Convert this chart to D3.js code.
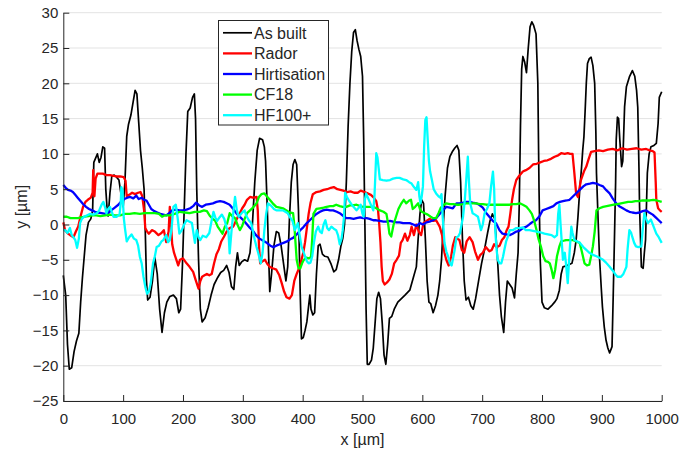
<!DOCTYPE html>
<html>
<head>
<meta charset="utf-8">
<script src="https://cdn.jsdelivr.net/npm/d3@7/dist/d3.min.js"></script>
<style>
  body { margin: 0; background: #fff; }
  text { font-family: "Liberation Sans", Arial, sans-serif; fill: #262626; }
</style>
</head>
<body>
<div class="canvas"></div>
<script>
// tick labels
const xTicks = [0, 100, 200, 300, 400, 500, 600, 700, 800, 900, 1000];
const yTicks = [-25, -20, -15, -10, -5, 0, 5, 10, 15, 20, 25, 30];

// series names, in legend order
const names = ["As built", "Rador", "Hirtisation", "CF18", "HF100+"];

// profiles, [x µm, y µm]
const asBuilt = [[0,-7.2],[4,-10],[7,-17],[10,-20.5],[14,-20.3],[18,-18],[22,-16.5],[26,-15.4],[29,-11],[32,-7.5],[35,-4.5],[38,-1.5],[42,0.3],[46,0.8],[49,2],[51,8.8],[54,9.4],[57,10],[60,8.8],[63,9.5],[66,11],[69,10.8],[71,5],[73,2.5],[75,1.2],[78,4.5],[81,6.8],[85,7],[89,6.7],[93,6.3],[97,4],[100,2.5],[103,6],[106,12.5],[109,14.2],[113,15.5],[117,17.5],[120,19],[123,18.5],[126,14.5],[129,10.5],[132,8],[135,5],[137,-1],[139,-8],[141,-10.7],[145,-10.3],[149,-8],[153,-4.7],[157,-7],[161,-12],[165,-15.3],[169,-12.5],[173,-11],[178,-10.2],[184,-10],[189,-10.5],[193,-12.5],[196,-12],[199,-6],[202,2],[205,10],[208,16],[212,16.5],[216,18],[219,18.5],[221,15],[223,5],[226,-5],[229,-12],[232,-13.8],[237,-13.2],[242,-11.8],[247,-10],[252,-8.5],[258,-7.5],[263,-6.8],[268,-6.5],[273,-5.8],[277,-6.8],[281,-8.8],[285,-9.2],[288,-6],[291,-4],[294,-5.8],[298,-5.3],[303,-5],[308,-5.2],[312,-4],[316,0],[320,6],[324,10.5],[328,12.2],[333,12],[336,11],[338,9],[341,2],[343,-4],[345,-9.5],[348,-7],[352,-3],[356,-1],[360,-1.2],[364,-3],[368,-5.5],[372,-8],[375,-6],[378,1],[381,6],[384,8.5],[387,9.2],[390,8.5],[393,2],[396,-10],[398,-16.2],[401,-16],[404,-15],[407,-13.8],[410,-11.5],[412,-10],[414,-12],[417,-12.8],[420,-12.5],[423,-7],[426,-3],[429,-2.8],[433,-4.2],[437,-4.5],[442,-4.6],[447,-5.5],[452,-6.7],[456,-6.4],[460,-5],[464,-3],[467,-2],[470,0],[473,6],[476,14],[479,20],[482,24.5],[485,27.2],[488,27.6],[491,26],[494,24.8],[497,23.8],[500,21],[502,12],[504,0],[506,-12],[508,-19.8],[511,-19.8],[515,-19.2],[518,-17.5],[521,-14],[524,-10.5],[527,-9.6],[530,-10.5],[533,-14],[536,-18.5],[539,-19.8],[542,-17],[545,-13.3],[549,-13],[553,-12],[559,-11],[565,-10.5],[571,-10],[579,-9.3],[585,-7.5],[590,-6],[593,-2],[596,1.5],[599,3.5],[602,3],[605,-2],[608,-8],[611,-11],[614,-11.2],[618,-12.5],[622,-11.5],[626,-10],[629,-8],[632,-5],[635,0],[638,4],[642,8],[646,9.6],[650,10.3],[654,10.8],[658,11.2],[661,10.5],[664,6],[667,-2],[670,-8],[673,-10.7],[677,-10.3],[681,-11.5],[685,-12],[689,-10.5],[694,-8],[699,-5.5],[704,-3.5],[709,-1.2],[713,0.5],[717,1.5],[721,0.8],[725,-4],[729,-10],[732,-13],[736,-15.3],[739,-11],[742,-8],[746,-8.5],[750,-9],[754,-10.4],[757,-7],[760,-4],[762,3],[764,14],[766,22],[768,23.8],[771,23],[774,21.5],[777,25],[780,28],[783,28.7],[786,28.2],[790,27],[793,20],[795,5],[797,-5],[800,-11],[804,-11.8],[810,-12],[816,-11.5],[821,-11],[825,-10.5],[829,-9.3],[832,-7],[835,-6],[842,-5.8],[850,-5.5],[854,-4],[857,-2.2],[860,1],[863,4.9],[866,8],[868,10.5],[870,12.4],[872,16],[874,20],[876,22.8],[879,23.5],[882,23.7],[885,22.5],[888,20],[890,13],[891,7.3],[894,0],[896,-4.6],[899,-9],[901,-11.7],[904,-14.5],[907,-16.4],[910,-17.5],[913,-18.2],[917,-17.3],[919,-10],[921,-2.2],[923,6],[924,12],[926,15.2],[928,15],[930,12],[933,8.2],[935,9],[938,16.7],[941,19.5],[946,20.9],[951,21.8],[955,21],[958,19],[960,16.6],[962,8],[963,2.5],[966,-6],[969,-6.2],[971,-4],[973,-2.2],[976,7.3],[979,10],[982,11],[987,11.2],[991,11.5],[994,14.3],[996,18],[1000,18.8]];

const rador = [[0,0.3],[3,-0.8],[8,-1.3],[13,-1.6],[17,-1.8],[21,-1],[25,-0.3],[29,1.2],[33,2.5],[37,3.2],[41,3.5],[46,3.8],[49,4.5],[50,7.7],[52,4],[54,6.5],[57,7.2],[62,7.2],[66,7.2],[72,7],[78,7],[84,6.9],[89,6.8],[95,6.8],[101,6.7],[104,6.2],[106,4],[110,4.2],[115,4.5],[120,4.3],[125,4.5],[129,4.6],[132,4],[135,2],[137,-0.5],[140,-1],[143,-1.3],[148,-0.8],[153,-1],[159,-1.5],[164,-1.2],[168,-0.8],[172,-2.5],[176,-1],[178,2.5],[180,0],[182,-2.8],[185,-4],[189,-5],[192,-5.8],[195,-5],[200,-4.8],[206,-5.5],[211,-6],[217,-6.7],[221,-7.8],[226,-9.1],[229,-8],[232,-7.4],[236,-7.2],[240,-7],[244,-7.2],[248,-7],[252,-5.5],[256,-4.2],[260,-3.5],[264,-2.4],[268,-1.8],[273,-1],[278,-0.5],[284,-0.3],[290,0.8],[295,1.6],[299,2.3],[303,2.8],[307,3.5],[312,3.9],[317,3.8],[323,3.9],[325,2],[327,-3],[329,-5.5],[333,-5.2],[337,-5],[341,-5.6],[345,-6],[350,-6.2],[356,-6.4],[361,-7.2],[365,-8.3],[369,-9.5],[373,-10.3],[378,-10.5],[382,-10],[386,-8],[390,-7],[394,-6.2],[398,-5],[401,-4],[404,-2.5],[407,-0.5],[410,1.5],[413,3],[417,4.3],[423,4.6],[429,4.7],[435,4.9],[441,5],[447,5.2],[452,5.3],[458,5],[463,4.9],[468,4.8],[474,4.6],[480,4.7],[486,4.5],[492,4.5],[497,4.8],[503,4.6],[509,4.4],[514,4.2],[519,3.8],[523,3.3],[526,2],[528,0],[530,-2.5],[532,-6],[534,-8],[537,-8.5],[541,-8.2],[545,-7.8],[549,-7],[553,-5.5],[557,-5],[561,-4.4],[564,-2.6],[567,-2.2],[571,-1.3],[575,-2.3],[579,-1.5],[582,-0.3],[586,-1.5],[590,0],[594,-1],[598,-1.5],[602,0.2],[607,0.5],[612,0.8],[618,0.5],[623,0.6],[629,-0.3],[633,-1.5],[637,-4],[640,-5],[644,-5.8],[648,-4.6],[651,-3],[655,-1.8],[658,-2],[662,-2.2],[666,-3.6],[670,-4],[674,-2.4],[679,-1.8],[684,-2.5],[688,-3.8],[693,-5],[697,-4.3],[701,-4],[706,-3.2],[712,-3.8],[716,-3.6],[720,-2.8],[724,-3.2],[729,-3],[733,-2.2],[737,-1.8],[741,-0.8],[744,-0.3],[747,1.5],[750,3.5],[753,5],[757,6.3],[762,6.9],[768,7.5],[773,7.7],[779,8],[785,8.5],[791,8.6],[797,8.8],[803,9],[809,9.1],[815,9.3],[821,9.6],[827,9.8],[832,10.1],[838,10],[843,10.1],[847,10],[851,10],[854,7.3],[857,4.4],[860,3.9],[865,6.3],[870,7.5],[874,8.2],[878,9.3],[882,10.3],[888,10.4],[895,10.5],[902,10.4],[910,10.6],[918,10.7],[926,10.5],[934,10.8],[942,10.6],[950,10.7],[958,10.8],[966,10.6],[974,10.7],[980,10.5],[985,10.4],[988,10.2],[990,6],[991,3.5],[994,2.3],[997,2],[1000,1.8]];

const hirtisation = [[0,5.6],[4,5.2],[8,4.9],[12,4.8],[16,4.6],[20,4.2],[24,3.8],[28,3.4],[33,2.9],[38,2.5],[43,2.2],[48,2],[53,1.8],[58,1.7],[64,1.6],[70,1.5],[75,1.6],[80,2],[86,2.4],[92,2.8],[97,3.3],[102,3.6],[107,3.8],[112,3.9],[117,3.7],[122,4.1],[126,3.6],[131,3.8],[135,3.5],[139,3.4],[143,2.8],[147,2.2],[152,1.9],[157,1.7],[162,1.5],[167,1.4],[172,1.3],[177,1.6],[182,2],[188,2.1],[194,2],[200,2],[206,2.1],[212,2.3],[217,2.6],[222,3.1],[227,2.7],[232,2.5],[238,2.8],[244,2.9],[250,3],[256,3.2],[262,3.3],[268,3.2],[273,3],[278,2.8],[284,2.2],[290,1.5],[296,1],[301,0.6],[306,0.1],[312,-0.5],[317,-0.9],[322,-1.5],[328,-2],[334,-2.3],[340,-2.6],[346,-3],[351,-3.2],[356,-3],[362,-2.8],[368,-2.6],[374,-2.4],[379,-2.1],[384,-1.9],[390,-1.4],[396,-0.8],[401,-0.4],[407,0.2],[412,0.6],[418,1.1],[423,1.5],[429,1.8],[434,2],[440,2.1],[446,2],[451,2],[457,1.8],[462,1.6],[468,1.2],[473,0.9],[479,0.9],[485,0.8],[490,0.9],[496,1],[501,0.9],[507,0.9],[512,0.8],[518,0.6],[523,0.6],[529,0.5],[535,0.4],[540,0.4],[546,0.5],[551,0.4],[557,0.3],[562,0.3],[568,0.2],[573,0.2],[579,0.2],[585,0],[590,-0.2],[596,0.2],[601,0],[607,0.3],[612,0.4],[618,0.6],[623,0.9],[629,1.5],[634,2],[640,2.5],[646,2.4],[651,2.3],[657,3],[662,3],[668,3.1],[673,3.2],[679,3.2],[684,3.1],[690,3],[695,2.8],[701,2.4],[707,1.6],[712,1.1],[718,0.5],[723,0.2],[729,-0.8],[734,-1.3],[740,-1.4],[746,-1.5],[751,-1.3],[757,-1],[762,-0.9],[768,-0.5],[774,-0.3],[780,0.1],[785,0.4],[790,0.6],[796,1.2],[801,2],[807,2.2],[813,2.4],[819,2.6],[824,3],[830,3.2],[835,3.3],[841,3.4],[846,3.5],[852,4],[858,4.5],[863,4.9],[869,5.4],[874,5.7],[880,5.8],[885,5.9],[891,5.8],[896,5.6],[902,5.4],[907,4.9],[913,4.4],[918,3.7],[924,3],[929,2.6],[935,2.3],[941,2],[946,1.8],[951,1.7],[957,1.6],[963,1.7],[968,1.9],[974,2],[979,1.7],[985,1.4],[990,1],[995,0.6],[1000,0.2]];

const cf18 = [[0,1.1],[6,1.1],[12,0.9],[18,0.9],[24,0.9],[30,1],[36,1.1],[42,1.2],[48,1.3],[55,1.3],[62,1.2],[70,1.3],[78,1.4],[86,1.3],[95,1.3],[103,1.5],[111,1.5],[119,1.6],[128,1.5],[136,1.6],[145,1.6],[153,1.6],[160,1.5],[165,1.1],[170,1.3],[178,1.3],[186,1.5],[195,1.8],[203,1.7],[211,1.6],[220,1.8],[228,1.8],[235,2],[240,1.9],[245,1.2],[250,0.8],[254,0.5],[258,-0.3],[262,-0.8],[266,-1.3],[270,-0.3],[274,0.2],[278,1.6],[282,1.2],[287,0.9],[291,0],[295,-0.8],[299,-0.2],[303,0.8],[307,1.6],[312,2],[317,2.4],[323,3],[327,3.9],[331,4.3],[336,4.4],[340,4],[345,3.5],[350,3],[356,2.5],[362,2.4],[367,2.3],[373,2],[378,1.7],[384,1.6],[386,0],[388,-2.5],[390,-5],[393,-6.2],[396,-6.2],[399,-5.5],[402,-5],[406,-4.7],[410,-4.8],[414,-4.6],[416,-2],[418,1.5],[423,2.2],[429,2.3],[435,2.4],[440,2.5],[446,2.6],[451,2.6],[456,2.8],[462,2.6],[467,2.5],[473,2.5],[479,2.7],[484,2.7],[490,2.8],[496,2.6],[501,2.5],[507,2.5],[512,2.5],[518,2.5],[523,2.3],[529,2],[535,1.8],[540,1.5],[543,0],[545,-1.3],[548,-1.7],[552,0],[556,1.1],[560,2.2],[565,3],[569,3.5],[573,3],[578,3.4],[581,3.5],[584,2.2],[588,2.5],[593,3],[596,2.2],[599,1.8],[604,1.6],[609,1.4],[614,1.1],[618,0.9],[623,0.9],[627,1.6],[631,2.4],[636,2.8],[640,3],[646,2.9],[652,2.9],[657,2.8],[662,2.8],[668,2.9],[673,3],[679,3],[685,3],[690,3],[696,2.9],[701,2.9],[707,2.8],[712,2.8],[718,2.8],[724,2.8],[729,2.8],[735,2.8],[740,2.8],[746,2.8],[751,2.9],[757,2.9],[763,3],[768,2.8],[774,2.5],[779,2],[783,1.5],[787,0.5],[790,-0.5],[794,-2],[798,-3.1],[802,-4.5],[806,-5.2],[810,-5.3],[813,-5.5],[816,-6.4],[819,-7.6],[822,-6.4],[825,-4.5],[829,-3.1],[832,-2.4],[836,-2.3],[840,-2.2],[845,-2.2],[851,-2.2],[857,-2.4],[863,-2.6],[867,-4],[871,-5.5],[875,-5.8],[879,-5.7],[882,-4.5],[885,-3.1],[888,-1],[891,2],[896,2.3],[902,2.5],[908,2.6],[914,2.7],[920,2.8],[926,2.9],[932,3],[938,3.1],[944,3.2],[950,3.2],[956,3.3],[962,3.3],[968,3.4],[974,3.4],[980,3.4],[986,3.5],[992,3.4],[1000,3.2]];

const hf100 = [[0,-0.8],[3,-0.8],[7,-1.2],[11,-0.5],[14,-1.5],[17,-1.8],[20,-2.2],[23,-3.3],[26,-2],[28,0.2],[31,0.8],[35,1.1],[40,1.3],[45,1.5],[50,1.4],[56,1.6],[60,2],[64,2.8],[67,3.2],[70,2.4],[72,1.6],[75,2.2],[78,2.5],[81,1.8],[84,1.1],[89,1.1],[94,1.4],[96,3],[97,5.3],[99,4.8],[101,1],[103,-0.5],[106,-2.4],[110,-1.8],[114,-1.4],[118,-2],[122,-2.2],[125,-3],[128,-4.6],[131,-5.5],[134,-7.4],[137,-8.8],[140,-9.8],[143,-9.5],[146,-8.4],[150,-5.5],[153,-4.5],[156,-3.2],[160,-3],[164,-2.4],[167,-2.2],[172,-1.5],[175,-2.5],[178,-2.2],[181,-0.5],[184,2.5],[188,2.8],[191,1],[194,-1.3],[198,-0.8],[202,0],[206,0.6],[211,0.4],[215,0.2],[218,-1.5],[220,-2.6],[223,-0.8],[226,-1.8],[229,-2.2],[233,-1.6],[239,-1.8],[244,-1.2],[248,0.6],[251,1.8],[254,1],[257,0.5],[261,1],[265,1.4],[269,0.8],[273,-0.5],[276,-1],[278,-4.1],[281,-1],[284,1.6],[287,3.9],[290,2],[293,1.1],[298,1.6],[303,2],[306,1.2],[310,0.6],[314,0.2],[317,-1],[320,-2.2],[323,-3.2],[326,-4.1],[330,-5.5],[333,-4],[336,-0.8],[339,1.5],[342,3],[345,2.8],[348,2.6],[352,2.2],[356,2],[361,2],[367,2],[371,1.8],[375,1.6],[379,1],[383,0.5],[387,-0.8],[390,-0.2],[392,0.2],[395,-1.5],[398,-3.1],[401,-3.8],[404,-4.5],[407,-5.2],[410,-5.5],[413,-5.4],[416,-4.5],[419,-2.5],[422,-1],[426,-0.3],[429,-1],[432,-1.2],[435,0],[438,0.6],[441,-0.5],[444,-0.8],[448,-0.3],[452,-0.6],[456,-0.8],[459,-1.5],[462,-2.8],[465,-2],[467,-0.8],[469,1],[471,4.5],[474,3.9],[478,3.3],[482,2.8],[486,2.4],[490,2],[494,2.4],[497,2.8],[500,1.5],[502,1.1],[504,3.5],[506,4.4],[509,3.8],[512,3.2],[515,2.6],[518,2],[520,4],[522,8],[523,10.1],[525,9.5],[527,8],[529,6.4],[534,6.3],[540,6.2],[546,6.3],[551,6.5],[557,6.6],[562,6.6],[568,6.4],[573,6.3],[578,6],[582,5.8],[586,5.3],[590,4.9],[593,6],[595,4],[597,3],[599,4],[601,5.4],[603,11],[605,14.8],[607,15.2],[609,12],[611,9],[613,7.5],[616,6.3],[619,5],[623,4.4],[627,4],[630,3.8],[632,4.3],[634,1.1],[637,-2.6],[640,-3.8],[643,-4.5],[646,-5.5],[649,-5.8],[652,-4.5],[654,-3.6],[657,-1.8],[660,-1.7],[663,-1.2],[666,0.2],[668,1.1],[671,3.5],[673,5.9],[676,9.6],[678,5.9],[680,3],[684,1.6],[688,1.4],[693,1.1],[698,-0.8],[701,0],[704,1.6],[708,2.2],[712,3],[715,5.5],[718,7.5],[720,5],[722,-1],[724,-3.5],[726,-5],[729,-5.5],[732,-5.5],[735,-4.5],[737,-3.6],[740,-2.4],[743,-1.7],[746,-0.8],[751,-0.8],[757,-0.5],[762,-0.5],[768,-0.4],[773,-0.8],[779,-0.8],[785,-0.9],[791,-1],[797,-1.1],[804,-1.3],[810,-1.4],[816,-1.5],[821,-1.8],[825,-1.5],[827,1.5],[829,2.8],[831,0],[833,-2.5],[835,-5],[838,-4],[840,-5.5],[843,-8.3],[846,-4],[849,-0.3],[851,-1.2],[854,-2.2],[859,-2.4],[863,-2.6],[869,-3.2],[874,-3.6],[879,-4],[885,-4.3],[891,-4.5],[896,-4.7],[902,-5],[907,-5.4],[913,-6],[918,-6.5],[922,-7],[926,-7.4],[932,-7.4],[936,-7],[941,-6],[943,-3.5],[946,-0.8],[949,-1.2],[951,-1.8],[954,-2.6],[957,-3.1],[961,-3.2],[966,-3.1],[968,-1],[971,1.6],[974,0.8],[977,0.2],[980,0.5],[982,0.7],[986,-0.2],[991,-1.3],[995,-1.8],[1000,-2.6]];

const seriesData = [asBuilt, rador, hirtisation, cf18, hf100];
const colors = ["#000000", "#ff0000", "#0000ff", "#00ff00", "#00ffff"];
const widths = [1.7, 2.3, 2.3, 2.3, 2.3];

const margin = { top: 12.7, right: 34.3, bottom: 53, left: 63.3 };
const graphWidth = 696 - margin.left - margin.right;
const graphHeight = 454 - margin.top - margin.bottom;

const svg = d3
  .select(".canvas")
  .append("svg")
  .attr("width", 696)
  .attr("height", 454);

const graph = svg
  .append("g")
  .attr("transform", `translate(${margin.left}, ${margin.top})`);

// scales
const x = d3.scaleLinear().domain([0, 1000]).range([0, graphWidth]);
const y = d3.scaleLinear().domain([-25, 30]).range([graphHeight, 0]);

// horizontal grid
graph
  .append("g")
  .selectAll("line")
  .data(yTicks)
  .enter()
  .append("line")
  .attr("x1", 0)
  .attr("x2", graphWidth)
  .attr("y1", (d) => y(d))
  .attr("y2", (d) => y(d))
  .attr("stroke", "#e3e3e3")
  .attr("stroke-width", 1);

// lines
const line = d3
  .line()
  .x((d) => x(d[0]))
  .y((d) => y(d[1]));

graph
  .append("g")
  .selectAll("path")
  .data(seriesData)
  .enter()
  .append("path")
  .attr("fill", "none")
  .attr("stroke", (d, i) => colors[i])
  .attr("stroke-width", (d, i) => widths[i])
  .attr("stroke-linejoin", "round")
  .attr("d", line);

// axes
const xAxis = d3
  .axisBottom(x)
  .tickValues(xTicks)
  .tickFormat(d3.format("d"))
  .tickSizeInner(-6)
  .tickSizeOuter(0)
  .tickPadding(12);
const yAxis = d3
  .axisLeft(y)
  .tickValues(yTicks)
  .tickFormat(d3.format("d"))
  .tickSizeInner(-6)
  .tickSizeOuter(0)
  .tickPadding(5);

const xAxisGroup = graph
  .append("g")
  .attr("transform", `translate(0, ${graphHeight})`)
  .call(xAxis);
const yAxisGroup = graph.append("g").call(yAxis);

[xAxisGroup, yAxisGroup].forEach((g) => {
  g.select(".domain").attr("stroke", "#262626");
  g.selectAll(".tick line").attr("stroke", "#262626");
  g.selectAll(".tick text")
    .attr("fill", "#262626")
    .style("font-size", "15px")
    .style("font-family", '"Liberation Sans", Arial, sans-serif');
});

// axis labels
svg
  .append("text")
  .attr("x", margin.left + graphWidth / 2)
  .attr("y", 444.5)
  .attr("text-anchor", "middle")
  .style("font-size", "16px")
  .text("x [µm]");

svg
  .append("text")
  .attr("transform", `translate(27, ${margin.top + graphHeight / 2}) rotate(-90)`)
  .attr("text-anchor", "middle")
  .style("font-size", "16px")
  .text("y [µm]");

// legend
const legend = svg.append("g").attr("transform", "translate(218.5, 20.5)");

legend
  .append("rect")
  .attr("width", 110)
  .attr("height", 104.5)
  .attr("fill", "#fff")
  .attr("stroke", "#262626")
  .attr("stroke-width", 1);

const rows = legend
  .selectAll(".row")
  .data(names)
  .enter()
  .append("g")
  .attr("class", "row")
  .attr("transform", (d, i) => `translate(0, ${12.3 + i * 20.6})`);

rows
  .append("line")
  .attr("x1", 4.5)
  .attr("x2", 33.5)
  .attr("stroke", (d, i) => colors[i])
  .attr("stroke-width", (d, i) => widths[i]);

rows
  .append("text")
  .attr("x", 35.5)
  .attr("dy", "0.36em")
  .style("font-size", "16px")
  .text((d) => d);
</script>
</body>
</html>
